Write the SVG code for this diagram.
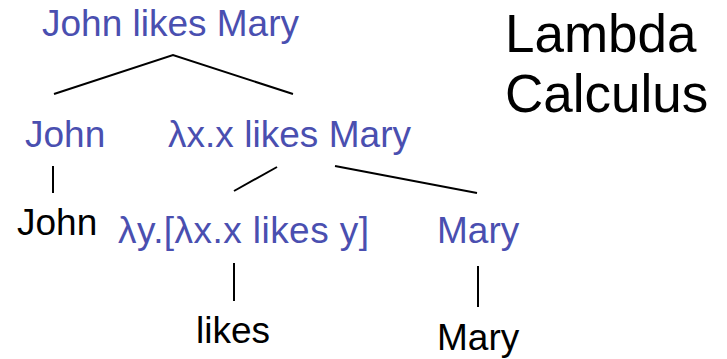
<svg xmlns="http://www.w3.org/2000/svg" width="727" height="359" viewBox="0 0 727 359">
  <style>
    .t { font-family: "Liberation Sans", Arial, sans-serif; font-size: 37px; }
    .sem { fill: #4a4fb0; }
    .word { fill: #000000; }
    .title { font-family: "Liberation Sans", Arial, sans-serif; font-size: 53px; fill: #000000; }
    .edge { stroke: #000000; stroke-width: 2; fill: none; }
  </style>
  <rect width="727" height="359" fill="#ffffff"/>

  <g id="title">
    <text class="title" x="505" y="52">Lambda</text>
    <text class="title" x="505" y="112">Calculus</text>
  </g>

  <g id="connectors">
    <polyline class="edge" points="54,94 173,55 293,94"/>
    <line class="edge" x1="53" y1="166" x2="53" y2="193"/>
    <line class="edge" x1="234" y1="191" x2="277" y2="167"/>
    <line class="edge" x1="335" y1="166" x2="477" y2="193"/>
    <line class="edge" x1="234" y1="263" x2="234" y2="301"/>
    <line class="edge" x1="478" y1="266" x2="478" y2="307"/>
  </g>

  <g id="node-s">
    <text class="t sem" x="42" y="36" textLength="257">John likes Mary</text>
  </g>
  <g id="node-np-john">
    <text class="t sem" x="25" y="147">John</text>
  </g>
  <g id="node-vp">
    <text class="t sem" x="168" y="147" textLength="243">λx.x likes Mary</text>
  </g>
  <g id="node-john">
    <text class="t word" x="17" y="235">John</text>
  </g>
  <g id="node-v">
    <text class="t sem" x="118" y="243" textLength="251">λy.[λx.x likes y]</text>
  </g>
  <g id="node-np-mary">
    <text class="t sem" x="437" y="243">Mary</text>
  </g>
  <g id="node-likes">
    <text class="t word" x="196" y="343">likes</text>
  </g>
  <g id="node-mary">
    <text class="t word" x="437" y="350">Mary</text>
  </g>
</svg>
